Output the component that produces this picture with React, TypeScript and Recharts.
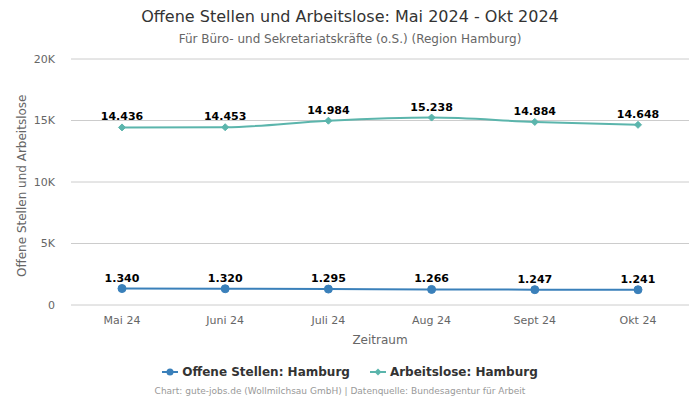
import { LineChart, Line, XAxis, YAxis, CartesianGrid, LabelList } from 'recharts';

const months = ['Mai 24', 'Juni 24', 'Juli 24', 'Aug 24', 'Sept 24', 'Okt 24'];
const offeneStellen = [1340, 1320, 1295, 1266, 1247, 1241];
const arbeitslose = [14436, 14453, 14984, 15238, 14884, 14648];
const yTicks = [0, 5000, 10000, 15000, 20000];

const BLUE = '#3a80ba';
const TEAL = '#5bb5ac';
const FONT = '"DejaVu Sans", sans-serif';

const data = months.map((m, i) => ({
  month: m,
  offen: offeneStellen[i],
  arbeitslos: arbeitslose[i],
}));

const fmtNum = (v: number) => v.toLocaleString('de-DE');
const fmtTick = (v: number) => (v === 0 ? '0' : `${v / 1000}K`);

function Diamond(props: any) {
  const { cx, cy } = props;
  if (cx == null || cy == null) return null;
  const s = 3.5;
  return (
    <path
      d={`M${cx},${cy - s} L${cx + s},${cy} L${cx},${cy + s} L${cx - s},${cy} Z`}
      fill={TEAL}
      stroke={TEAL}
    />
  );
}

function LegendItem({ color, label, diamond }: { color: string; label: string; diamond?: boolean }) {
  return (
    <span style={{ display: 'inline-flex', alignItems: 'center', margin: '0 10px' }}>
      <svg width={16} height={10} style={{ marginRight: 4 }}>
        <line x1={0} y1={5} x2={16} y2={5} stroke={color} strokeWidth={2} />
        {diamond ? (
          <path d="M8,1.5 L11.5,5 L8,8.5 L4.5,5 Z" fill={color} />
        ) : (
          <circle cx={8} cy={5} r={3.5} fill={color} />
        )}
      </svg>
      {label}
    </span>
  );
}

export default function App() {
  return (
    <div style={{ position: 'relative', width: 700, height: 400, fontFamily: FONT, background: '#fff' }}>
      <style>{`body{margin:0}`}</style>
      <div style={{ position: 'absolute', top: 7, left: 0, width: 700, textAlign: 'center', fontSize: 16, color: '#333' }}>
        Offene Stellen und Arbeitslose: Mai 2024 - Okt 2024
      </div>
      <div style={{ position: 'absolute', top: 32, left: 0, width: 700, textAlign: 'center', fontSize: 12, color: '#666' }}>
        Für Büro- und Sekretariatskräfte (o.S.) (Region Hamburg)
      </div>

      <LineChart
        width={700}
        height={400}
        data={data}
        margin={{ top: 59, right: 11, bottom: 65, left: 21 }}
        style={{ position: 'absolute', top: 0, left: 0 }}
      >
        <CartesianGrid vertical={false} stroke="#cccccc" />
        <XAxis
          dataKey="month"
          padding={{ left: 51, right: 51 }}
          axisLine={false}
          tickLine={false}
          tick={{ fontSize: 11, fill: '#666', fontFamily: FONT }}
          tickMargin={5}
          height={30}
          label={{ value: 'Zeitraum', position: 'insideBottom', offset: -9, fontSize: 12, fill: '#666', fontFamily: FONT }}
        />
        <YAxis
          domain={[0, 20000]}
          ticks={yTicks}
          tickFormatter={fmtTick}
          axisLine={false}
          tickLine={false}
          width={50}
          tick={{ fontSize: 11, fill: '#666', fontFamily: FONT }}
          tickMargin={10}
          label={{
            value: 'Offene Stellen und Arbeitslose',
            angle: -90,
            position: 'insideLeft',
            dx: -4,
            dy: 95,
            fontSize: 12,
            fill: '#666',
            fontFamily: FONT,
          }}
        />
        <Line
          type="monotone"
          dataKey="arbeitslos"
          stroke={TEAL}
          strokeWidth={2}
          dot={<Diamond />}
          isAnimationActive={false}
        >
          <LabelList
            dataKey="arbeitslos"
            position="top"
            offset={7}
            formatter={fmtNum}
            style={{ fontSize: 11, fontWeight: 'bold', fill: '#000', fontFamily: FONT }}
          />
        </Line>
        <Line
          type="monotone"
          dataKey="offen"
          stroke={BLUE}
          strokeWidth={2}
          dot={{ r: 4, fill: BLUE, stroke: BLUE, strokeWidth: 1 }}
          isAnimationActive={false}
        >
          <LabelList
            dataKey="offen"
            position="top"
            offset={7}
            formatter={fmtNum}
            style={{ fontSize: 11, fontWeight: 'bold', fill: '#000', fontFamily: FONT }}
          />
        </Line>
      </LineChart>

      <div
        style={{
          position: 'absolute',
          top: 365,
          left: 0,
          width: 700,
          display: 'flex',
          justifyContent: 'center',
          fontSize: 12,
          fontWeight: 'bold',
          color: '#333',
        }}
      >
        <LegendItem color={BLUE} label="Offene Stellen: Hamburg" />
        <LegendItem color={TEAL} label="Arbeitslose: Hamburg" diamond />
      </div>
      <div style={{ position: 'absolute', top: 386, left: 0, width: 680, textAlign: 'center', fontSize: 9, color: '#999' }}>
        Chart: gute-jobs.de (Wollmilchsau GmbH) | Datenquelle: Bundesagentur für Arbeit
      </div>
    </div>
  );
}
